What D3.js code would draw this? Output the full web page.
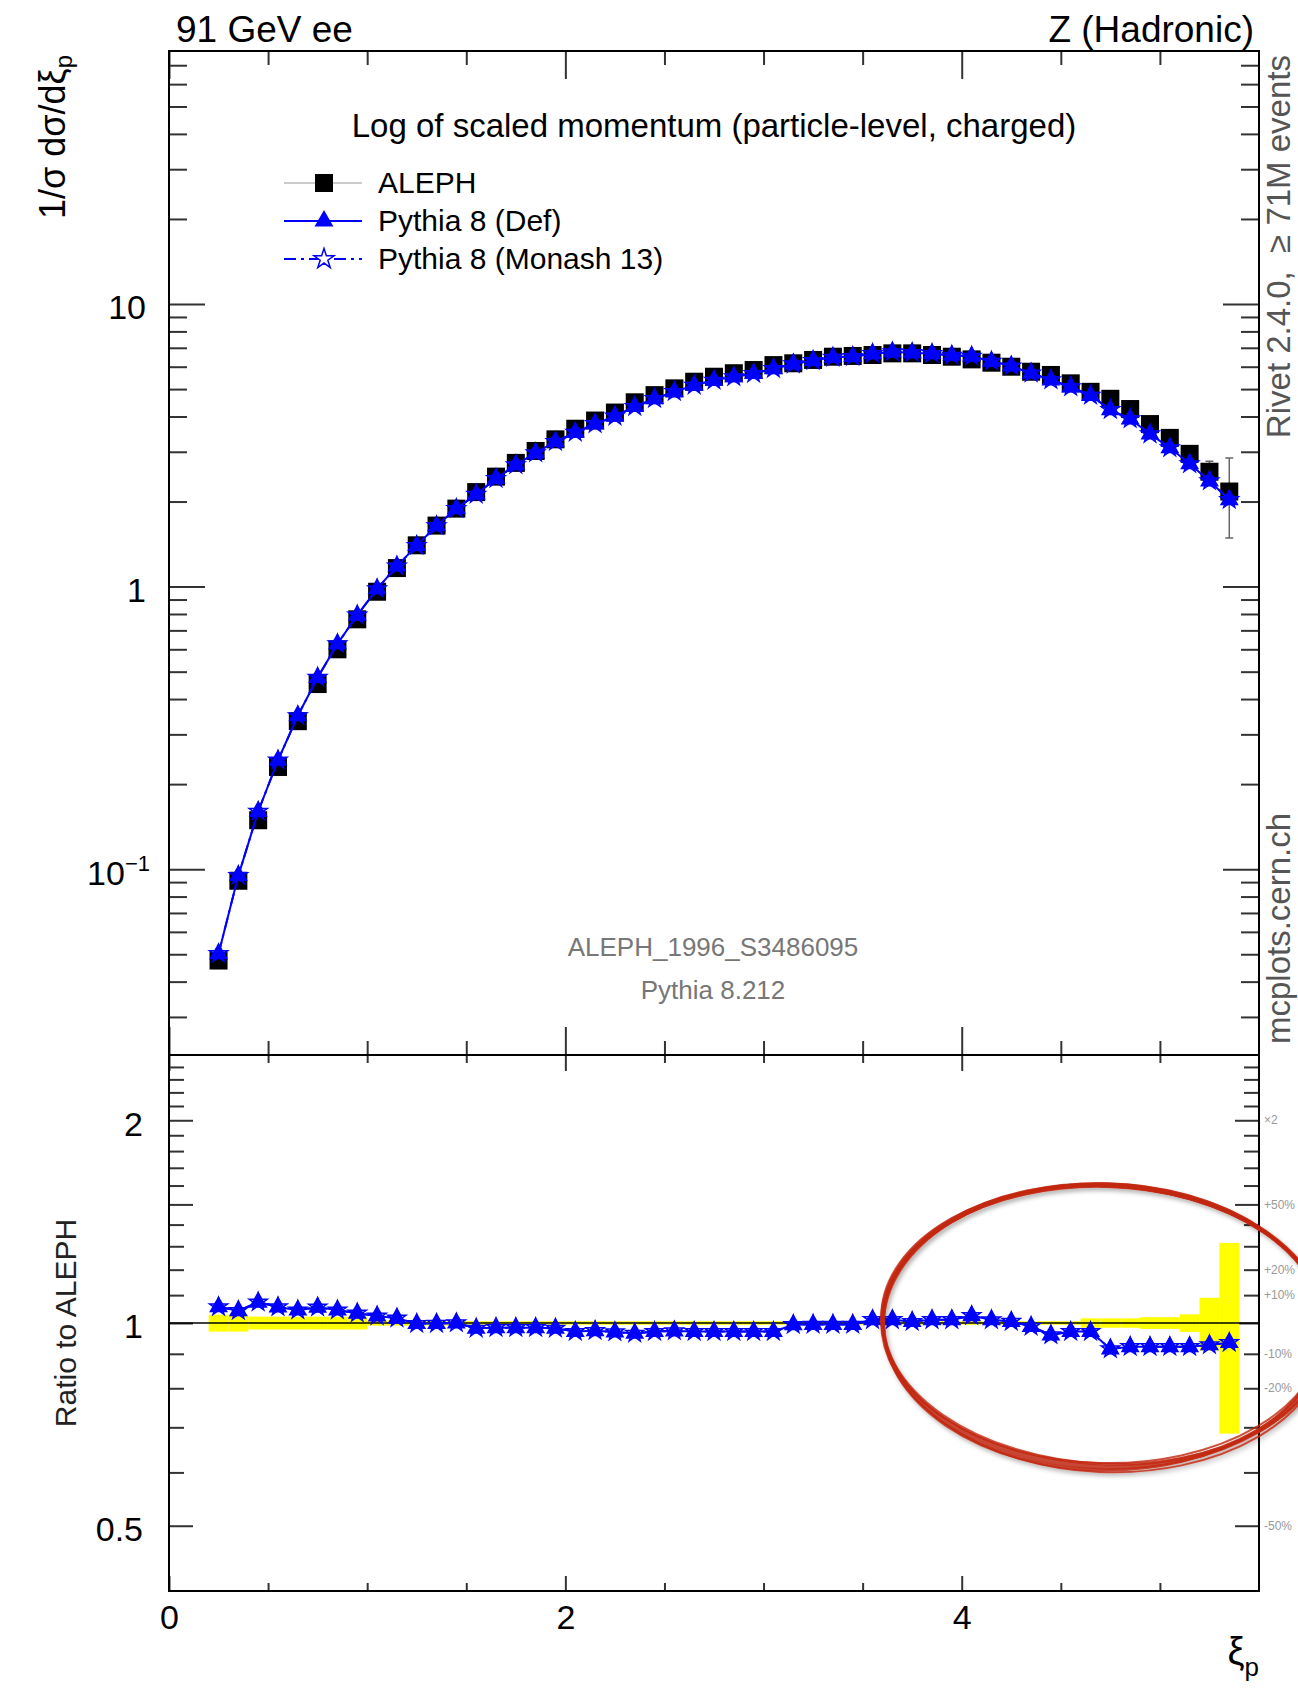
<!DOCTYPE html>
<html>
<head>
<meta charset="utf-8">
<script src="https://cdn.jsdelivr.net/npm/d3@7"></script>
<style>
  body { margin: 0; background: #fff; }
  svg { display: block; font-family: "Liberation Sans", Arial, Helvetica, sans-serif; }
  .axis path.domain { display: none; }
  .axis line { stroke: #333; stroke-width: 2px; }
  .axis text { fill: #000; font-size: 34px; }
</style>
</head>
<body>
<div id="chart"></div>
<script>
// bin edges of the xi_p histogram (53 edges -> 52 bins)
var binEdges = [0.2, 0.3, 0.4, 0.5, 0.6, 0.7, 0.8, 0.9, 1.0, 1.1, 1.2, 1.3, 1.4, 1.5, 1.6, 1.7, 1.8, 1.9,
    2.0, 2.1, 2.2, 2.3, 2.4, 2.5, 2.6, 2.7, 2.8, 2.9, 3.0, 3.1, 3.2, 3.3, 3.4, 3.5, 3.6, 3.7, 3.8, 3.9,
    4.0, 4.1, 4.2, 4.3, 4.4, 4.5, 4.6, 4.7, 4.8, 4.9, 5.0, 5.1, 5.2, 5.3, 5.4];

var aleph = [0.0475, 0.091, 0.149, 0.230, 0.334, 0.452, 0.600, 0.766, 0.959, 1.163, 1.40, 1.644, 1.888,
    2.16, 2.45, 2.74, 3.02, 3.32, 3.62, 3.87, 4.13, 4.49, 4.76, 5.03, 5.31, 5.53, 5.69, 5.84, 6.08, 6.17,
    6.34, 6.51, 6.55, 6.60, 6.69, 6.69, 6.60, 6.51, 6.37, 6.20, 6.00, 5.76, 5.61, 5.24, 4.89, 4.62, 4.25,
    3.76, 3.36, 2.95, 2.55, 2.17];

// relative uncertainty of the data (yellow band)
var alephRelErr = [0.029, 0.029, 0.022, 0.022, 0.022, 0.022, 0.022, 0.022, 0.009, 0.009, 0.009, 0.009, 0.009,
    0.006, 0.006, 0.006, 0.006, 0.006, 0.006, 0.006, 0.006, 0.006, 0.006, 0.006, 0.006, 0.006, 0.006, 0.006,
    0.006, 0.006, 0.006, 0.006, 0.006, 0.006, 0.006, 0.006, 0.006, 0.006, 0.006, 0.006, 0.006, 0.006, 0.006,
    0.006, 0.016, 0.016, 0.016, 0.02, 0.02, 0.03, 0.09, 0.315];

var pythiaDef = [0.0502, 0.0949, 0.160, 0.243, 0.349, 0.477, 0.627, 0.792, 0.982, 1.182, 1.397, 1.641, 1.888,
    2.121, 2.411, 2.696, 2.972, 3.260, 3.515, 3.769, 4.006, 4.333, 4.622, 4.894, 5.156, 5.370, 5.525, 5.671,
    5.904, 6.133, 6.308, 6.477, 6.517, 6.673, 6.764, 6.723, 6.673, 6.582, 6.529, 6.268, 6.030, 5.691, 5.386,
    5.088, 4.748, 4.227, 3.919, 3.467, 3.098, 2.720, 2.366, 2.029];

var pythiaMonash = [0.0502, 0.0949, 0.160, 0.243, 0.349, 0.477, 0.627, 0.792, 0.982, 1.182, 1.397, 1.641, 1.888,
    2.121, 2.411, 2.696, 2.972, 3.260, 3.515, 3.769, 4.006, 4.333, 4.622, 4.894, 5.156, 5.370, 5.525, 5.671,
    5.904, 6.133, 6.308, 6.477, 6.517, 6.673, 6.764, 6.723, 6.673, 6.582, 6.529, 6.268, 6.030, 5.691, 5.386,
    5.088, 4.748, 4.227, 3.919, 3.467, 3.098, 2.720, 2.366, 2.029];

var xMajorTicks = [0, 2, 4];
var xMinorTicks = [0.5, 1, 1.5, 2.5, 3, 3.5, 4.5, 5];
var mainMajorTicks = [0.1, 1, 10];
var ratioMajorTicks = [0.5, 1, 1.5, 2];
var ratioLabelTicks = [0.5, 1, 2];
var ratioMinorTicks = [0.6, 0.7, 0.8, 0.9, 1.1, 1.2, 1.3, 1.4, 1.6, 1.7, 1.8, 1.9, 2.1, 2.2, 2.3, 2.4];
var ratioSideValues = [2, 1.5, 1.2, 1.1, 0.9, 0.8, 0.5];
var ratioSideLabels = ["\u00d72", "+50%", "+20%", "+10%", "-10%", "-20%", "-50%"];
var legendLabels = ["ALEPH", "Pythia 8 (Def)", "Pythia 8 (Monash 13)"];

var width = 1298, height = 1690;
var frame = { left: 169, right: 1259, top: 51, split: 1055, bottom: 1591 };
var blue = "#0000ff";

var x = d3.scaleLinear().domain([0, 5.5]).range([frame.left, frame.right]);
var y = d3.scaleLog().domain([0.022, 78.6]).range([frame.split, frame.top]);
var yr = d3.scaleLog().base(2).domain([0.4, 2.5]).range([frame.bottom, frame.split]);

var points = aleph.map(function(v, i) {
    return {
        lo: binEdges[i], hi: binEdges[i + 1], xi: (binEdges[i] + binEdges[i + 1]) / 2,
        data: v, err: v * alephRelErr[i], rel: alephRelErr[i],
        def: pythiaDef[i], monash: pythiaMonash[i]
    };
});

var svg = d3.select("#chart").append("svg")
    .attr("width", width)
    .attr("height", height);

var defs = svg.append("defs");
defs.append("filter").attr("id", "shadow").attr("x", "-10%").attr("y", "-10%").attr("width", "120%").attr("height", "130%")
  .append("feDropShadow")
    .attr("dx", 2).attr("dy", 3).attr("stdDeviation", 2)
    .attr("flood-color", "#000").attr("flood-opacity", 0.3);

// ---------- axes (ticks point inwards, like make-plots) ----------
function addAxis(axis, tx, ty) {
    return svg.append("g")
        .attr("class", "axis")
        .attr("transform", "translate(" + tx + "," + ty + ")")
        .call(axis)
        .attr("font-family", null);
}

var mainMinor = y.ticks().filter(function(d) {
    var l = Math.log10(d);
    return Math.abs(l - Math.round(l)) > 1e-6;
});

var leftMain = addAxis(d3.axisLeft(y).tickValues(mainMajorTicks).tickSize(-36).tickPadding(23)
    .tickFormat(function(d) { return d === 0.1 ? "" : d3.format("d")(d); }), frame.left, 0);
leftMain.selectAll(".tick text").attr("dy", "0.44em");
leftMain.selectAll(".tick").filter(function(d) { return d === 0.1; }).select("text")
    .attr("x", -19)
    .each(function() {
        var t = d3.select(this);
        t.append("tspan").text("10");
        t.append("tspan").attr("dy", "-0.6em").attr("font-size", 22).text("\u22121");
    });
addAxis(d3.axisLeft(y).tickValues(mainMinor).tickSize(-18).tickFormat(""), frame.left, 0);
addAxis(d3.axisRight(y).tickValues(mainMajorTicks).tickSize(-36).tickFormat(""), frame.right, 0);
addAxis(d3.axisRight(y).tickValues(mainMinor).tickSize(-18).tickFormat(""), frame.right, 0);

addAxis(d3.axisTop(x).tickValues(xMajorTicks).tickSize(-28).tickFormat(""), 0, frame.top);
addAxis(d3.axisTop(x).tickValues(xMinorTicks).tickSize(-14).tickFormat(""), 0, frame.top);
addAxis(d3.axisBottom(x).tickValues(xMajorTicks).tickSize(-28).tickFormat(""), 0, frame.split);
addAxis(d3.axisBottom(x).tickValues(xMinorTicks).tickSize(-14).tickFormat(""), 0, frame.split);

addAxis(d3.axisTop(x).tickValues(xMajorTicks).tickSize(-16).tickFormat(""), 0, frame.split);
addAxis(d3.axisTop(x).tickValues(xMinorTicks).tickSize(-8).tickFormat(""), 0, frame.split);
addAxis(d3.axisBottom(x).tickValues(xMajorTicks).tickSize(-15).tickPadding(14)
    .tickFormat(d3.format("d")), 0, frame.bottom);
addAxis(d3.axisBottom(x).tickValues(xMinorTicks).tickSize(-8).tickFormat(""), 0, frame.bottom);

var leftRatio = addAxis(d3.axisLeft(yr).tickValues(ratioMajorTicks).tickSize(-24).tickPadding(26)
    .tickFormat(function(d) { return ratioLabelTicks.indexOf(d) >= 0 ? String(d) : ""; }), frame.left, 0);
leftRatio.selectAll(".tick text").attr("dy", "0.44em");
addAxis(d3.axisLeft(yr).tickValues(ratioMinorTicks).tickSize(-15).tickFormat(""), frame.left, 0);
addAxis(d3.axisRight(yr).tickValues(ratioMajorTicks).tickSize(-24).tickFormat(""), frame.right, 0);
addAxis(d3.axisRight(yr).tickValues(ratioMinorTicks).tickSize(-15).tickFormat(""), frame.right, 0);

// percentage hints right of the ratio panel
svg.append("g").selectAll("text")
    .data(ratioSideValues)
    .enter().append("text")
    .attr("x", frame.right + 5)
    .attr("y", function(d) { return yr(d); })
    .attr("dy", "0.35em")
    .attr("font-size", 12)
    .attr("fill", "#999")
    .text(function(d, i) { return ratioSideLabels[i]; });

// ---------- main panel ----------
var main = svg.append("g");

main.selectAll(".err")
    .data(points)
    .enter().append("path")
    .attr("class", "err")
    .attr("fill", "none")
    .attr("stroke", "#666")
    .attr("stroke-width", 1.5)
    .attr("d", function(d) {
        var cx = x(d.xi), y0 = y(d.data - d.err), y1 = y(d.data + d.err);
        return "M" + cx + "," + y0 + "V" + y1 +
               "M" + (cx - 4) + "," + y0 + "H" + (cx + 4) +
               "M" + (cx - 4) + "," + y1 + "H" + (cx + 4);
    });

main.selectAll(".data")
    .data(points)
    .enter().append("path")
    .attr("class", "data")
    .attr("transform", function(d) { return "translate(" + x(d.xi) + "," + y(d.data) + ")"; })
    .attr("d", d3.symbol().type(d3.symbolSquare).size(18 * 18))
    .attr("fill", "#000");

main.append("path")
    .datum(points)
    .attr("fill", "none")
    .attr("stroke", blue)
    .attr("stroke-width", 2)
    .attr("d", d3.line().x(function(d) { return x(d.xi); }).y(function(d) { return y(d.def); }));

main.append("path")
    .datum(points)
    .attr("fill", "none")
    .attr("stroke", blue)
    .attr("stroke-width", 2)
    .attr("stroke-dasharray", "12,5,3,5")
    .attr("d", d3.line().x(function(d) { return x(d.xi); }).y(function(d) { return y(d.monash); }));

main.selectAll(".def")
    .data(points)
    .enter().append("path")
    .attr("class", "def")
    .attr("transform", function(d) { return "translate(" + x(d.xi) + "," + y(d.def) + ")"; })
    .attr("d", d3.symbol().type(d3.symbolTriangle).size(155))
    .attr("fill", blue);

main.selectAll(".monash")
    .data(points)
    .enter().append("path")
    .attr("class", "monash")
    .attr("transform", function(d) { return "translate(" + x(d.xi) + "," + y(d.monash) + ")"; })
    .attr("d", d3.symbol().type(d3.symbolStar).size(100))
    .attr("fill", "none")
    .attr("stroke", blue)
    .attr("stroke-width", 1.5);

// ---------- ratio panel ----------
var ratio = svg.append("g");

ratio.selectAll(".band")
    .data(points)
    .enter().append("rect")
    .attr("class", "band")
    .attr("x", function(d) { return x(d.lo); })
    .attr("width", function(d) { return x(d.hi) - x(d.lo); })
    .attr("y", function(d) { return yr(1 + d.rel); })
    .attr("height", function(d) { return yr(1 - d.rel) - yr(1 + d.rel); })
    .attr("fill", "#ffff00");

ratio.append("line")
    .attr("x1", frame.left).attr("x2", frame.right)
    .attr("y1", yr(1)).attr("y2", yr(1))
    .attr("stroke", "#000")
    .attr("stroke-width", 1.5);

ratio.append("path")
    .datum(points)
    .attr("fill", "none")
    .attr("stroke", blue)
    .attr("stroke-width", 2)
    .attr("d", d3.line().x(function(d) { return x(d.xi); }).y(function(d) { return yr(d.def / d.data); }));

ratio.append("path")
    .datum(points)
    .attr("fill", "none")
    .attr("stroke", blue)
    .attr("stroke-width", 2)
    .attr("stroke-dasharray", "12,5,3,5")
    .attr("d", d3.line().x(function(d) { return x(d.xi); }).y(function(d) { return yr(d.monash / d.data); }));

ratio.selectAll(".def")
    .data(points)
    .enter().append("path")
    .attr("class", "def")
    .attr("transform", function(d) { return "translate(" + x(d.xi) + "," + yr(d.def / d.data) + ")"; })
    .attr("d", d3.symbol().type(d3.symbolTriangle).size(155))
    .attr("fill", blue);

ratio.selectAll(".monash")
    .data(points)
    .enter().append("path")
    .attr("class", "monash")
    .attr("transform", function(d) { return "translate(" + x(d.xi) + "," + yr(d.monash / d.data) + ")"; })
    .attr("d", d3.symbol().type(d3.symbolStar).size(100))
    .attr("fill", "none")
    .attr("stroke", blue)
    .attr("stroke-width", 1.5);

// frames
svg.append("rect")
    .attr("x", frame.left).attr("y", frame.top)
    .attr("width", frame.right - frame.left).attr("height", frame.split - frame.top)
    .attr("fill", "none").attr("stroke", "#000").attr("stroke-width", 2);
svg.append("rect")
    .attr("x", frame.left).attr("y", frame.split)
    .attr("width", frame.right - frame.left).attr("height", frame.bottom - frame.split)
    .attr("fill", "none").attr("stroke", "#000").attr("stroke-width", 2);

// ---------- legend ----------
var legend = svg.append("g").selectAll(".legend-item")
    .data(legendLabels)
    .enter().append("g")
    .attr("class", "legend-item")
    .attr("transform", function(d, i) { return "translate(324," + (183 + i * 38) + ")"; });

legend.append("line")
    .attr("x1", -40).attr("x2", 38)
    .attr("stroke", function(d, i) { return i === 0 ? "#999" : blue; })
    .attr("stroke-width", function(d, i) { return i === 0 ? 1.2 : 2; })
    .attr("stroke-dasharray", function(d, i) { return i === 2 ? "12,5,3,5" : null; });

legend.append("path")
    .attr("d", function(d, i) {
        var type = [d3.symbolSquare, d3.symbolTriangle, d3.symbolStar][i];
        var size = [18 * 18, 155, 125][i];
        return d3.symbol().type(type).size(size)();
    })
    .attr("fill", function(d, i) { return i === 0 ? "#000" : (i === 1 ? blue : "#fff"); })
    .attr("stroke", function(d, i) { return i === 2 ? blue : "none"; })
    .attr("stroke-width", 1.5);

legend.append("text")
    .attr("x", 54)
    .attr("y", 10)
    .attr("font-size", 30)
    .text(function(d) { return d; });

// ---------- texts ----------
svg.append("text").attr("x", 176).attr("y", 42).attr("font-size", 37).text("91 GeV ee");
svg.append("text").attr("x", 1254).attr("y", 42).attr("font-size", 37)
    .attr("text-anchor", "end").text("Z (Hadronic)");
svg.append("text").attr("x", 714).attr("y", 137).attr("font-size", 33)
    .attr("text-anchor", "middle").text("Log of scaled momentum (particle-level, charged)");

svg.append("text").attr("x", 713).attr("y", 956).attr("font-size", 26).attr("fill", "#777")
    .attr("text-anchor", "middle").text("ALEPH_1996_S3486095");
svg.append("text").attr("x", 713).attr("y", 999).attr("font-size", 26).attr("fill", "#777")
    .attr("text-anchor", "middle").text("Pythia 8.212");

var ylab = svg.append("text")
    .attr("transform", "translate(65,55) rotate(-90)")
    .attr("text-anchor", "end")
    .attr("font-size", 36)
    .text("1/\u03c3 d\u03c3/d\u03be");
ylab.append("tspan").attr("dy", "0.3em").attr("font-size", 24).text("p");

svg.append("text")
    .attr("transform", "translate(76," + yr(1) + ") rotate(-90)")
    .attr("text-anchor", "middle")
    .attr("font-size", 30)
    .attr("fill", "#222")
    .text("Ratio to ALEPH");

var xlab = svg.append("text")
    .attr("x", frame.right).attr("y", 1664)
    .attr("text-anchor", "end")
    .attr("font-size", 38)
    .text("\u03be");
xlab.append("tspan").attr("dy", "0.45em").attr("font-size", 26).text("p");

svg.append("text")
    .attr("transform", "translate(1290,55) rotate(-90)")
    .attr("text-anchor", "end")
    .attr("font-size", 33)
    .attr("fill", "#555")
    .style("white-space", "pre")
    .text("Rivet 2.4.0,  \u2265 71M events");
svg.append("text")
    .attr("transform", "translate(1290,1044) rotate(-90)")
    .attr("font-size", 33)
    .attr("fill", "#555")
    .text("mcplots.cern.ch");

// ---------- hand drawn red circle around the high-xi region ----------
var note = { xi: 4.72, ratio: 0.99, spanXi: 1.12, spanRatio: 1.62 };
var ecx = x(note.xi), ecy = yr(note.ratio);
var erx = x(note.xi + note.spanXi) - ecx, ery = yr(1) - yr(note.spanRatio);
var strokes = [
    { dx: 0, dy: 0, rx: 0, ry: 0, rot: 2, w: 5 },
    { dx: 1, dy: -1, rx: 2, ry: -2, rot: 3, w: 3 },
    { dx: -1, dy: 1, rx: -2, ry: 2, rot: 1, w: 3 },
    { dx: 1, dy: 2, rx: 1, ry: 3, rot: 2.5, w: 2 },
    { dx: -1, dy: -1, rx: -1, ry: -3, rot: 1.5, w: 2 }
];
svg.append("g")
    .attr("filter", "url(#shadow)")
  .selectAll("ellipse")
    .data(strokes)
    .enter().append("ellipse")
    .attr("cx", 0).attr("cy", 0)
    .attr("rx", function(d) { return erx + d.rx; })
    .attr("ry", function(d) { return ery + d.ry; })
    .attr("transform", function(d) {
        return "translate(" + (ecx + d.dx) + "," + (ecy + d.dy) + ") rotate(" + d.rot + ")";
    })
    .attr("fill", "none")
    .attr("stroke", "#c2260f")
    .attr("stroke-opacity", 0.8)
    .attr("stroke-width", function(d) { return d.w; });
</script>
</body>
</html>
